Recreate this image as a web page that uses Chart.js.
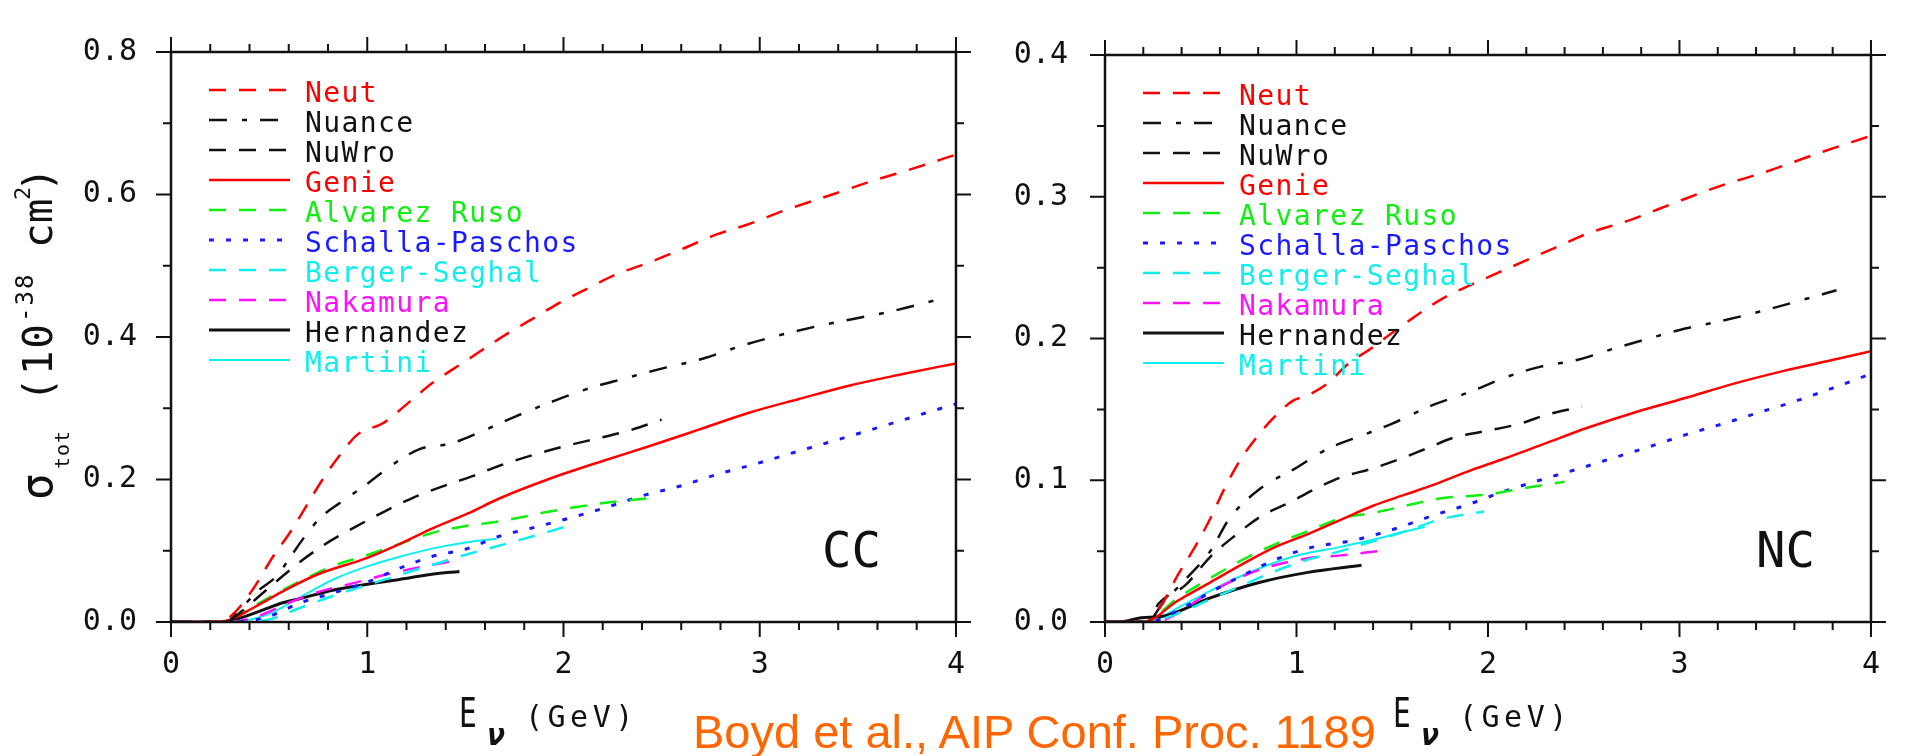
<!DOCTYPE html>
<html>
<head>
<meta charset="utf-8">
<title>Single pion cross sections</title>
<script src="https://cdn.jsdelivr.net/npm/chart.js@4.4.1/dist/chart.umd.min.js"></script>
<style>
  html, body { margin: 0; padding: 0; background: #fff; overflow: hidden; }
  #page { position: relative; width: 1905px; height: 756px; }
  .panel { position: absolute; top: 0; height: 756px; }
  #ccPanel { left: 0; width: 990px; }
  #ncPanel { left: 990px; width: 915px; }
  #cite {
    position: absolute; left: 693px; top: 708px;
    font-family: "Liberation Sans", Arial, sans-serif; font-size: 47px; line-height: 47px;
    color: #ff6600; white-space: nowrap;
  }
</style>
</head>
<body>
<div id="page">
  <div class="panel" id="ccPanel"><canvas id="cc"></canvas></div>
  <div class="panel" id="ncPanel"><canvas id="nc"></canvas></div>
  <div id="cite">Boyd et al., AIP Conf. Proc. 1189</div>
</div>
<script>
// model names, in legend order
const models = ['Neut', 'Nuance', 'NuWro', 'Genie', 'Alvarez Ruso', 'Schalla-Paschos',
                'Berger-Seghal', 'Nakamura', 'Hernandez', 'Martini'];

const xTicks = [0, 1, 2, 3, 4];          // E_nu (GeV)
const ccTicks = [0.0, 0.2, 0.4, 0.6, 0.8]; // sigma, 1e-38 cm^2
const ncTicks = [0.0, 0.1, 0.2, 0.3, 0.4];

// charged current: [E (GeV), sigma (1e-38 cm^2)]
const ccNeut = [[0,0],[0.25,0],[0.32,0.012],[0.42,0.047],[0.52,0.092],[0.61,0.127],[0.69,0.163],[0.77,0.199],
  [0.86,0.234],[0.95,0.263],[1.08,0.279],[1.22,0.31],[1.33,0.335],[1.5,0.366],[1.71,0.404],[1.84,0.425],
  [1.98,0.448],[2.13,0.469],[2.27,0.488],[2.44,0.505],[2.61,0.524],[2.78,0.544],[2.95,0.559],[3.12,0.577],
  [3.37,0.6],[3.54,0.616],[3.8,0.638],[4.0,0.656]];
const ccNuance = [[0,0],[0.28,0],[0.36,0.02],[0.44,0.043],[0.54,0.065],[0.61,0.092],[0.69,0.123],[0.76,0.146],
  [0.86,0.167],[1.0,0.194],[1.13,0.221],[1.27,0.243],[1.42,0.25],[1.57,0.266],[1.76,0.289],[1.93,0.308],
  [2.12,0.327],[2.3,0.341],[2.52,0.357],[2.69,0.368],[2.9,0.387],[3.08,0.401],[3.29,0.415],[3.47,0.425],
  [3.67,0.436],[3.9,0.452]];
const ccNuWro = [[0,0],[0.28,0],[0.36,0.015],[0.44,0.034],[0.55,0.06],[0.67,0.087],[0.79,0.11],[0.93,0.132],
  [1.08,0.154],[1.23,0.174],[1.38,0.19],[1.54,0.205],[1.67,0.219],[1.84,0.234],[2.01,0.247],[2.18,0.258],
  [2.35,0.27],[2.5,0.284]];
const ccGenie = [[0,0],[0.22,0],[0.3,0.003],[0.42,0.02],[0.57,0.043],[0.74,0.066],[1.0,0.09],[1.17,0.11],
  [1.33,0.131],[1.51,0.152],[1.67,0.173],[1.93,0.201],[2.2,0.226],[2.44,0.247],[2.69,0.27],[2.95,0.294],
  [3.2,0.313],[3.46,0.332],[3.73,0.348],[4.0,0.363]];
const ccAlvarez = [[0,0],[0.22,0],[0.3,0.004],[0.42,0.022],[0.57,0.045],[0.83,0.079],[1.0,0.094],[1.17,0.11],
  [1.33,0.125],[1.51,0.135],[1.67,0.141],[1.93,0.155],[2.18,0.166],[2.45,0.174]];
const ccSchalla = [[0,0],[0.3,0],[0.49,0.007],[0.66,0.027],[0.83,0.041],[1.0,0.056],[1.17,0.076],[1.33,0.092],
  [1.51,0.103],[1.67,0.12],[1.84,0.132],[2.02,0.145],[2.22,0.161],[2.4,0.177],[2.61,0.192],[2.78,0.207],
  [2.98,0.222],[3.2,0.24],[3.46,0.261],[3.7,0.281],[3.95,0.302],[4.0,0.306]];
const ccBerger = [[0,0],[0.3,0],[0.49,0.003],[0.66,0.02],[0.83,0.037],[1.0,0.052],[1.33,0.08],[1.51,0.095],
  [1.67,0.107],[1.84,0.12],[2.0,0.133]];
const ccNakamura = [[0,0],[0.3,0],[0.45,0.009],[0.6,0.027],[0.76,0.043],[0.95,0.056],[1.1,0.067],[1.25,0.076],
  [1.45,0.086]];
const ccHernandez = [[0,0],[0.25,0],[0.32,0.003],[0.45,0.015],[0.57,0.027],[0.66,0.033],[0.83,0.045],[1.0,0.053],
  [1.17,0.06],[1.33,0.067],[1.47,0.071]];
const ccMartini = [[0,0],[0.28,0],[0.49,0.01],[0.66,0.035],[0.83,0.06],[1.0,0.078],[1.17,0.092],[1.33,0.103],
  [1.51,0.112],[1.66,0.117]];

// neutral current
const ncNeut = [[0,0],[0.22,0],[0.3,0.013],[0.38,0.033],[0.47,0.053],[0.55,0.073],[0.62,0.093],[0.7,0.113],
  [0.79,0.13],[0.88,0.144],[0.98,0.156],[1.06,0.16],[1.16,0.168],[1.26,0.181],[1.4,0.194],[1.5,0.204],
  [1.76,0.228],[1.93,0.239],[2.08,0.248],[2.35,0.264],[2.52,0.274],[2.73,0.283],[2.98,0.296],[3.2,0.307],
  [3.46,0.318],[3.71,0.33],[4.0,0.343]];
const ncNuance = [[0,0],[0.22,0],[0.3,0.013],[0.42,0.03],[0.55,0.05],[0.65,0.073],[0.82,0.095],[0.99,0.108],
  [1.16,0.122],[1.35,0.132],[1.5,0.14],[1.71,0.153],[1.9,0.162],[2.08,0.172],[2.27,0.18],[2.47,0.185],
  [2.66,0.193],[2.84,0.2],[3.03,0.207],[3.24,0.213],[3.42,0.219],[3.61,0.226],[3.82,0.234]];
const ncNuWro = [[0,0],[0.22,0],[0.28,0.013],[0.42,0.026],[0.55,0.046],[0.67,0.06],[0.82,0.075],[0.96,0.084],
  [1.1,0.094],[1.23,0.102],[1.39,0.108],[1.54,0.115],[1.69,0.123],[1.82,0.13],[2.0,0.135],[2.17,0.14],
  [2.3,0.146],[2.49,0.152]];
const ncGenie = [[0,0],[0.2,0],[0.38,0.015],[0.55,0.028],[0.72,0.041],[0.89,0.053],[1.06,0.062],[1.23,0.072],
  [1.4,0.082],[1.57,0.09],[1.74,0.098],[1.91,0.107],[2.08,0.115],[2.3,0.126],[2.52,0.137],[2.77,0.148],
  [3.03,0.158],[3.28,0.168],[3.54,0.177],[3.77,0.184],[4.0,0.191]];
const ncAlvarez = [[0,0],[0.2,0],[0.38,0.017],[0.55,0.031],[0.72,0.044],[0.89,0.055],[1.06,0.064],[1.23,0.073],
  [1.4,0.077],[1.57,0.082],[1.74,0.087],[2.0,0.09],[2.17,0.094],[2.4,0.099]];
const ncSchalla = [[0,0],[0.22,0],[0.38,0.008],[0.55,0.021],[0.72,0.033],[0.89,0.044],[1.06,0.052],[1.31,0.058],
  [1.52,0.066],[1.71,0.075],[1.9,0.083],[2.08,0.092],[2.27,0.1],[2.47,0.108],[2.66,0.116],[2.85,0.124],
  [3.03,0.132],[3.23,0.14],[3.42,0.148],[3.61,0.156],[3.8,0.165],[4.0,0.175]];
const ncBerger = [[0,0],[0.22,0],[0.38,0.006],[0.55,0.016],[0.72,0.026],[0.89,0.036],[1.06,0.044],[1.23,0.05],
  [1.4,0.057],[1.57,0.064],[1.74,0.072],[1.98,0.078]];
const ncNakamura = [[0,0],[0.25,0],[0.32,0.002],[0.55,0.021],[0.81,0.037],[1.06,0.045],[1.23,0.047],[1.43,0.05]];
const ncHernandez = [[0,0],[0.08,0],[0.19,0.003],[0.3,0.004],[0.55,0.017],[0.81,0.028],[1.06,0.035],[1.34,0.04]];
const ncMartini = [[0,0],[0.22,0],[0.38,0.01],[0.55,0.022],[0.72,0.033],[0.98,0.046],[1.23,0.053],[1.4,0.058],
  [1.57,0.064],[1.67,0.067]];

// line styles per model
const colors = ['#ff0000', '#111111', '#111111', '#ff0000', '#11ee11', '#1a1aff', '#11eeee', '#ff11ff', '#111111', '#11eeee'];
const dashes = [[17, 13], [18, 15, 5, 13], [17, 13], [], [17, 13], [5, 12], [17, 13], [17, 13], [], []];
const widths = [2.5, 2.5, 2.5, 2.5, 2.5, 3, 2.5, 2.5, 3, 2];

const INK = '#111';
const MONO = '"DejaVu Sans Mono", monospace';

function putText(ctx, str, x, y, size, o = {}) {
  ctx.save();
  ctx.font = (o.style ? o.style + ' ' : '') + size + 'px ' + MONO;
  ctx.letterSpacing = (o.sp || 0) + 'px';
  ctx.fillStyle = o.color || INK;
  ctx.textBaseline = 'alphabetic';
  ctx.textAlign = 'left';
  ctx.translate(x, y);
  if (o.sx) ctx.scale(o.sx, 1);
  ctx.fillText(str, 0, 0);
  ctx.restore();
}

// box with outward ticks on all four sides, the in-plot legend and the axis titles
const framePlugin = {
  id: 'frame',
  afterDatasetsDraw(chart, args, o) {
    const ctx = chart.ctx, a = chart.chartArea, xs = chart.scales.x, ys = chart.scales.y;
    ctx.save();
    ctx.strokeStyle = INK;
    ctx.lineWidth = 2.5;
    ctx.strokeRect(a.left, a.top, a.right - a.left, a.bottom - a.top);

    ctx.lineWidth = 2;
    ctx.beginPath();
    for (let i = 0; i <= 20; i++) {
      const px = xs.getPixelForValue(i * 0.2), len = i % 5 ? 8 : 15;
      ctx.moveTo(px, a.bottom); ctx.lineTo(px, a.bottom + len);
      ctx.moveTo(px, a.top); ctx.lineTo(px, a.top - len);
    }
    const n = Math.round(ys.max / o.yMinor);
    for (let i = 0; i <= n; i++) {
      const py = ys.getPixelForValue(i * o.yMinor), len = i % 2 ? 8 : 15;
      ctx.moveTo(a.left, py); ctx.lineTo(a.left - len, py);
      ctx.moveTo(a.right, py); ctx.lineTo(a.right + len, py);
    }
    ctx.stroke();

    chart.data.datasets.forEach((ds, i) => {
      const y = a.top + 38 + 30 * i;
      ctx.strokeStyle = ds.borderColor;
      ctx.lineWidth = ds.borderWidth;
      ctx.setLineDash(ds.borderDash);
      ctx.beginPath();
      ctx.moveTo(a.left + 38, y);
      ctx.lineTo(a.left + 119, y);
      ctx.stroke();
      ctx.setLineDash([]);
      putText(ctx, ds.label, a.left + 134, y + 12, 28, {sp: 1.4, color: ds.borderColor});
    });

    putText(ctx, o.tag, a.left + 651, 567, 49);

    // E_nu (GeV)
    const L = a.left;
    putText(ctx, 'E', L + 288, 727, 41, {sx: 0.72});
    putText(ctx, 'ν', L + 316, 745, 30, {style: 'italic bold'});
    putText(ctx, '(GeV)', L + 354, 727, 30, {sp: 4.5});

    if (o.yTitle) {
      ctx.translate(52, 500);
      ctx.rotate(-Math.PI / 2);
      putText(ctx, 'σ', 0, 0, 44);
      putText(ctx, 'tot', 31, 17, 20, {sp: 1});
      putText(ctx, '(10', 98, 0, 41, {sp: 2});
      putText(ctx, '-38', 178, -19, 24, {sp: 2});
      putText(ctx, 'cm', 252, 0, 41);
      putText(ctx, '2', 300, -22, 22);
      putText(ctx, ')', 308, 0, 41);
    }
    ctx.restore();
  }
};

function panel(id, series, ticks, o) {
  const tickFont = {family: MONO, size: 30};
  return new Chart(document.getElementById(id), {
    type: 'line',
    data: {
      datasets: models.map((name, i) => ({
        label: name,
        data: series[i].map(p => ({x: p[0], y: p[1]})),
        borderColor: colors[i],
        borderDash: dashes[i],
        borderWidth: widths[i],
        pointRadius: 0,
        fill: false,
        cubicInterpolationMode: 'monotone'
      }))
    },
    options: {
      responsive: true,
      maintainAspectRatio: false,
      animation: false,
      events: [],
      layout: {padding: {left: 0, top: 24, right: o.padRight, bottom: 0}},
      plugins: {
        legend: {display: false},
        tooltip: {enabled: false},
        frame: {tag: o.tag, yMinor: o.yMinor, yTitle: o.yTitle}
      },
      scales: {
        x: {
          type: 'linear', min: xTicks[0], max: xTicks[xTicks.length - 1],
          afterFit: s => { s.height = 134; },
          afterBuildTicks: s => { s.ticks = xTicks.map(v => ({value: v})); },
          grid: {display: false, drawTicks: false},
          border: {display: false},
          ticks: {padding: 25, color: INK, font: tickFont, maxRotation: 0, callback: v => String(v)}
        },
        y: {
          type: 'linear', min: ticks[0], max: ticks[ticks.length - 1],
          afterFit: s => { s.width = o.left; },
          afterBuildTicks: s => { s.ticks = ticks.map(v => ({value: v})); },
          grid: {display: false, drawTicks: false},
          border: {display: false},
          ticks: {padding: o.yPad, color: INK, font: tickFont, callback: v => v.toFixed(1)}
        }
      }
    },
    plugins: [framePlugin]
  });
}

panel('cc', [ccNeut, ccNuance, ccNuWro, ccGenie, ccAlvarez, ccSchalla, ccBerger, ccNakamura, ccHernandez, ccMartini],
  ccTicks, {left: 171, padRight: 33, yPad: 34, yMinor: 0.1, tag: 'CC', yTitle: true});
panel('nc', [ncNeut, ncNuance, ncNuWro, ncGenie, ncAlvarez, ncSchalla, ncBerger, ncNakamura, ncHernandez, ncMartini],
  ncTicks, {left: 115, padRight: 15, yPad: 37, yMinor: 0.05, tag: 'NC', yTitle: false});
</script>
</body>
</html>
